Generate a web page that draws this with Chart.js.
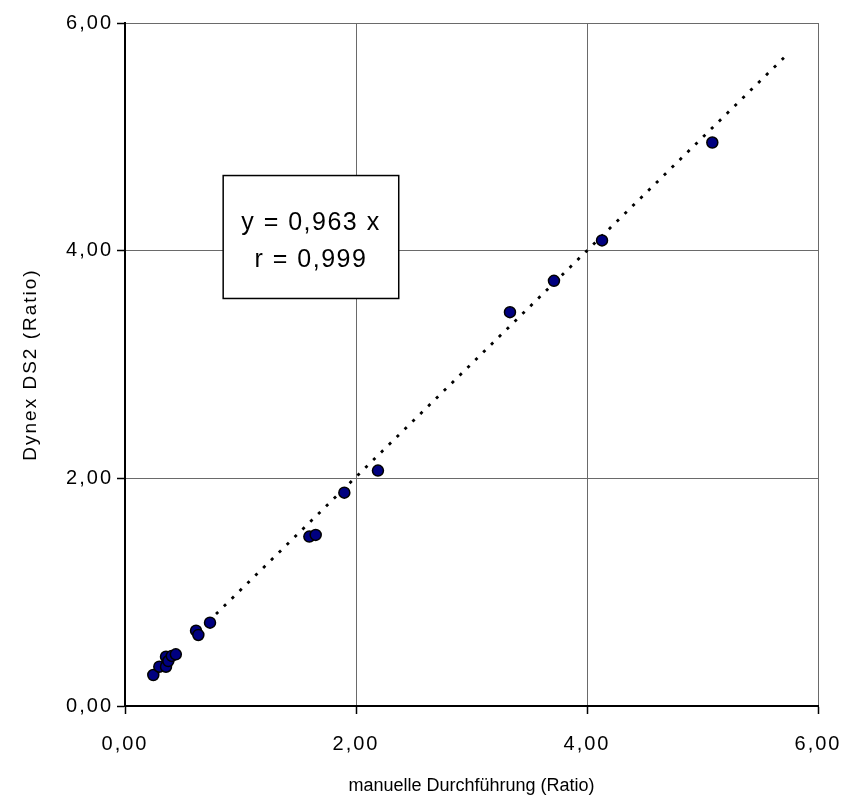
<!DOCTYPE html>
<html>
<head>
<meta charset="utf-8">
<script src="https://cdn.jsdelivr.net/npm/chart.js@4/dist/chart.umd.min.js"></script>
<style>
  html, body { margin: 0; padding: 0; background: #fff; }
  #wrap { width: 847px; height: 810px; }
</style>
</head>
<body>
<div id="wrap"><canvas id="chart" width="847" height="810"></canvas></div>
<script>
// Messwerte: manuelle Durchführung (x) gegen Dynex DS2 (y)
var manuell = [0.245, 0.297, 0.355, 0.355, 0.375, 0.405, 0.44, 0.615, 0.635, 0.736, 1.596, 1.651, 1.899, 2.19, 3.333, 3.714, 4.13, 5.085];
var dynex   = [0.272, 0.345, 0.345, 0.433, 0.395, 0.44, 0.454, 0.662, 0.624, 0.732, 1.488, 1.503, 1.874, 2.068, 3.46, 3.735, 4.09, 4.95];

// Trendlinie (Anfang / Ende)
var trendX = [0.72, 5.72];
var trendY = [0.74, 5.71];

// Achsenbeschriftung
var tickLabels = ['0,00', '2,00', '4,00', '6,00'];
var tickValues = [0, 2, 4, 6];
var xTitle = 'manuelle Durchführung (Ratio)';
var yTitle = 'Dynex DS2 (Ratio)';

// Textfeld mit Regressionsangaben
var boxLines = ['y = 0,963 x', 'r = 0,999'];

var FONT = 'Arial, "Liberation Sans", sans-serif';

function labelFor(value) {
  var i = tickValues.indexOf(value);
  return i >= 0 ? tickLabels[i] : '';
}

var points = manuell.map(function(x, i) { return { x: x, y: dynex[i] }; });
var trend = trendX.map(function(x, i) { return { x: x, y: trendY[i] }; });

// breitere Schrift wie im Original
var spacing = {
  id: 'spacing',
  beforeDraw: function(chart) { chart.ctx.letterSpacing = '2px'; }
};

// Kasten mit Gleichung + x-Achsentitel zeichnen
var infoBox = {
  id: 'infoBox',
  afterDraw: function(chart) {
    var ctx = chart.ctx;
    var xs = chart.scales.x, ys = chart.scales.y;
    var left = xs.getPixelForValue(0.85), right = xs.getPixelForValue(2.37);
    var top = ys.getPixelForValue(4.66), bottom = ys.getPixelForValue(3.58);
    ctx.save();
    ctx.fillStyle = '#fff';
    ctx.fillRect(left, top, right - left, bottom - top);
    ctx.strokeStyle = '#000';
    ctx.lineWidth = 1.5;
    ctx.strokeRect(left, top, right - left, bottom - top);
    ctx.fillStyle = '#000';
    ctx.font = '25px ' + FONT;
    ctx.letterSpacing = '1.5px';
    ctx.textAlign = 'center';
    ctx.textBaseline = 'middle';
    var cx = (left + right) / 2;
    ctx.fillText(boxLines[0], cx, ys.getPixelForValue(4.24));
    ctx.fillText(boxLines[1], cx, ys.getPixelForValue(3.92));

    ctx.font = '18px ' + FONT;
    ctx.letterSpacing = '0px';
    ctx.fillText(xTitle, (xs.left + xs.right) / 2, 786);
    ctx.restore();
  }
};

function gridColor(c) {
  return c.tick && c.tick.value === 0 ? 'rgba(0,0,0,0)' : '#6a6a6a';
}

new Chart(document.getElementById('chart'), {
  type: 'scatter',
  data: {
    datasets: [
      {
        label: 'Trend',
        data: trend,
        type: 'line',
        showLine: true,
        borderColor: '#000',
        borderWidth: 2.8,
        borderDash: [3, 8],
        pointRadius: 0,
        fill: false,
        order: 2
      },
      {
        label: 'Messwerte',
        data: points,
        backgroundColor: '#000080',
        borderColor: '#000',
        borderWidth: 1.5,
        pointRadius: 5.5,
        order: 1
      }
    ]
  },
  options: {
    responsive: false,
    animation: false,
    layout: { padding: { top: 23, right: 29, left: 0, bottom: 0 } },
    plugins: {
      legend: { display: false },
      tooltip: { enabled: false }
    },
    scales: {
      x: {
        type: 'linear',
        min: 0,
        max: 6,
        afterFit: function(s) { s.height = 104; s.paddingLeft = 0; s.paddingRight = 0; },
        afterBuildTicks: function(s) { s.ticks = tickValues.map(function(v) { return { value: v }; }); },
        border: { color: '#000', width: 2 },
        grid: { color: gridColor, lineWidth: 1, tickLength: 8, tickColor: '#000', tickWidth: 1.5 },
        ticks: {
          padding: 18,
          color: '#000',
          font: { family: FONT, size: 20 },
          callback: function(v) { return labelFor(v); }
        },
        title: { display: false }
      },
      y: {
        type: 'linear',
        min: 0,
        max: 6,
        afterFit: function(s) { s.width = 125; s.paddingTop = 0; s.paddingBottom = 0; },
        afterBuildTicks: function(s) { s.ticks = tickValues.map(function(v) { return { value: v }; }); },
        border: { color: '#000', width: 2 },
        grid: { color: gridColor, lineWidth: 1, tickLength: 8, tickColor: '#000', tickWidth: 1.5 },
        ticks: {
          padding: 4,
          color: '#000',
          font: { family: FONT, size: 20 },
          callback: function(v) { return labelFor(v); }
        },
        title: {
          display: true,
          text: yTitle,
          color: '#000',
          font: { family: FONT, size: 19 },
          padding: { top: 19, bottom: 0 }
        }
      }
    }
  },
  plugins: [spacing, infoBox]
});
</script>
</body>
</html>
